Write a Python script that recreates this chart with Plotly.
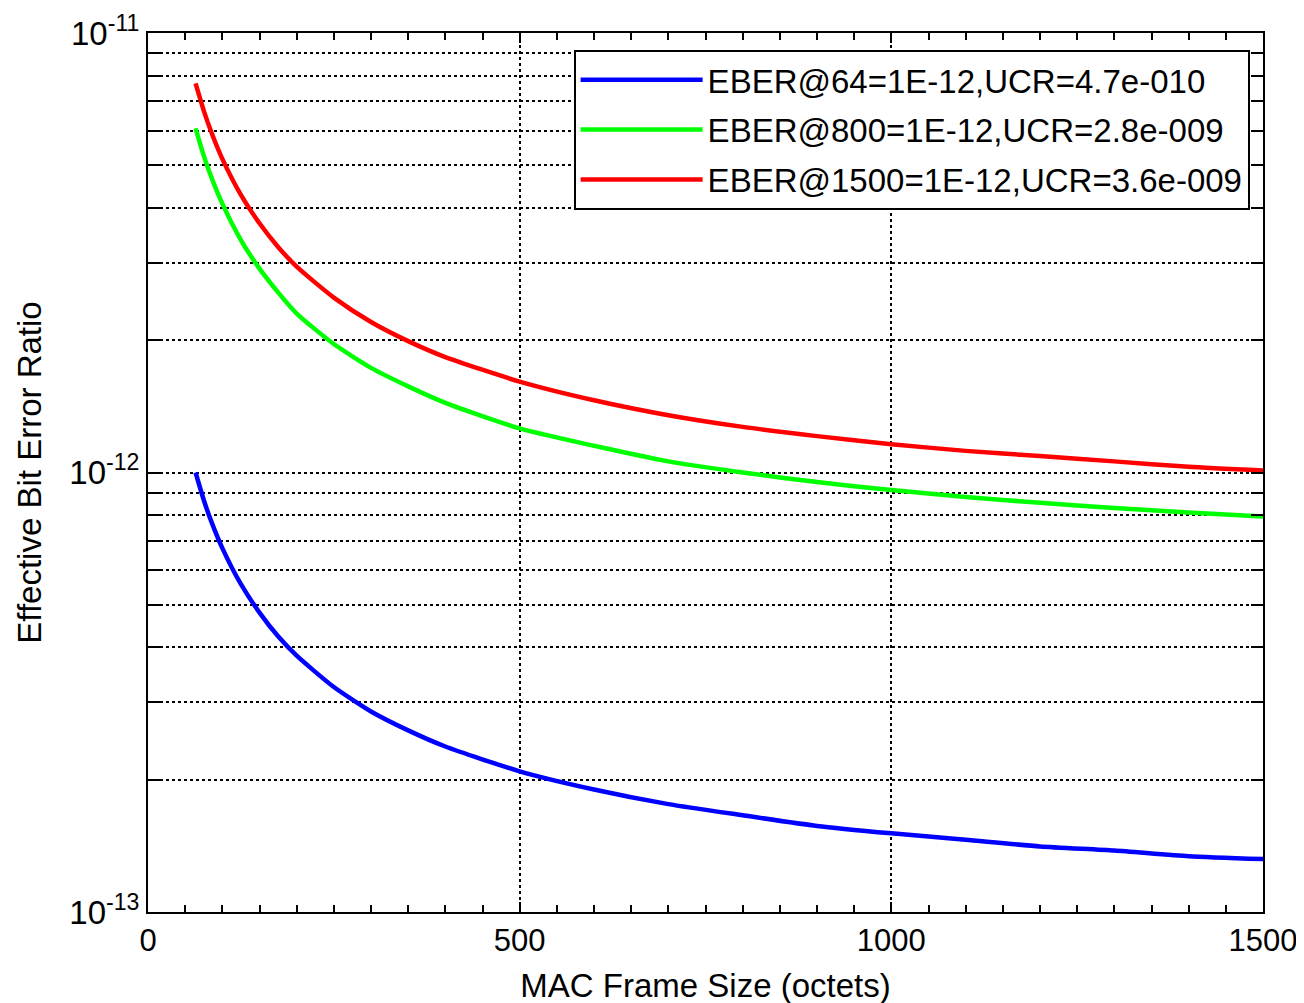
import plotly.graph_objects as go

# MAC frame sizes (octets)
frame_size = [64, 75, 85, 100, 125, 150, 175, 200, 250, 300, 350, 400, 500, 600, 700,
              800, 900, 1000, 1100, 1200, 1300, 1400, 1500]

# Effective bit error ratio
eber_64 = [1.00e-12, 8.66e-13, 7.75e-13, 6.73e-13, 5.57e-13, 4.80e-13, 4.24e-13, 3.83e-13,
           3.25e-13, 2.86e-13, 2.59e-13, 2.38e-13, 2.09e-13, 1.90e-13, 1.76e-13, 1.66e-13,
           1.57e-13, 1.51e-13, 1.46e-13, 1.41e-13, 1.38e-13, 1.34e-13, 1.32e-13]
eber_800 = [6.07e-12, 5.26e-12, 4.71e-12, 4.09e-12, 3.38e-12, 2.91e-12, 2.57e-12, 2.30e-12,
            1.96e-12, 1.73e-12, 1.57e-12, 1.44e-12, 1.26e-12, 1.15e-12, 1.06e-12, 1.00e-12,
            0.951e-12, 0.912e-12, 0.880e-12, 0.853e-12, 0.830e-12, 0.811e-12, 0.794e-12]
eber_1500 = [7.68e-12, 6.66e-12, 5.96e-12, 5.17e-12, 4.28e-12, 3.69e-12, 3.26e-12, 2.94e-12,
             2.50e-12, 2.20e-12, 1.99e-12, 1.83e-12, 1.61e-12, 1.46e-12, 1.35e-12, 1.27e-12,
             1.21e-12, 1.16e-12, 1.12e-12, 1.09e-12, 1.06e-12, 1.03e-12, 1.01e-12]

series_names = ["EBER@64=1E-12,UCR=4.7e-010",
                "EBER@800=1E-12,UCR=2.8e-009",
                "EBER@1500=1E-12,UCR=3.6e-009"]
series_colors = ["#0000FF", "#00FF00", "#FF0000"]

x_tickvals = [0, 500, 1000, 1500]
y_tickvals = [1e-13, 1e-12, 1e-11]
y_ticktext = ["10<sup>-13</sup>", "10<sup>-12</sup>", "10<sup>-11</sup>"]

FONT = "Liberation Sans, Arial, sans-serif"

fig = go.Figure()
for i, (name, ys, col) in enumerate(zip(series_names, [eber_64, eber_800, eber_1500], series_colors)):
    fig.add_trace(go.Scatter(x=frame_size, y=ys, mode="lines", name=name,
                             legendgroup=f"g{i}",
                             line=dict(color=col, width=4.5, shape="spline", smoothing=0.6)))

dash = "3px,3px"
fig.update_layout(
    width=1304, height=1003,
    margin=dict(l=140, r=49, t=25, b=99, autoexpand=False),
    paper_bgcolor="white", plot_bgcolor="white",
    font=dict(family=FONT, size=31, color="black"),
    showlegend=True,
    legend=dict(x=0.988, y=0.981, xanchor="right", yanchor="top",
                bgcolor="white", bordercolor="black", borderwidth=2,
                font=dict(family=FONT, size=33, color="black"),
                itemwidth=122, tracegroupgap=4,
                ),
    xaxis=dict(
        range=[0, 1500], tickvals=x_tickvals, ticktext=[str(v) for v in x_tickvals],
        ticks="inside", ticklen=10, tickwidth=1.5, tickcolor="black",
        showline=True, linecolor="black", linewidth=2, mirror="allticks",
        showgrid=True, gridcolor="black", gridwidth=1.5, griddash=dash,
        zeroline=False, automargin=False,
        minor=dict(dtick=50, ticks="inside", ticklen=7, tickwidth=1.5, tickcolor="black",
                   showgrid=False),
        title=dict(text="MAC Frame Size (octets)", font=dict(family=FONT, size=33), standoff=17),
        tickfont=dict(family=FONT, size=31),
    ),
    yaxis=dict(
        type="log", range=[-13, -11], tickvals=y_tickvals, ticktext=y_ticktext,
        ticks="inside", ticklen=12, tickwidth=1.5, tickcolor="black",
        showline=True, linecolor="black", linewidth=2, mirror="allticks",
        showgrid=True, gridcolor="black", gridwidth=1.5, griddash=dash,
        zeroline=False, automargin=False,
        minor=dict(dtick="D1", ticks="inside", ticklen=12, tickwidth=1.5, tickcolor="black",
                   showgrid=True, gridcolor="black", gridwidth=1.5, griddash=dash),
        title=dict(text="Effective Bit Error Ratio", font=dict(family=FONT, size=33), standoff=18),
        tickfont=dict(family=FONT, size=33),
    ),
)

fig.write_html("out.html")
